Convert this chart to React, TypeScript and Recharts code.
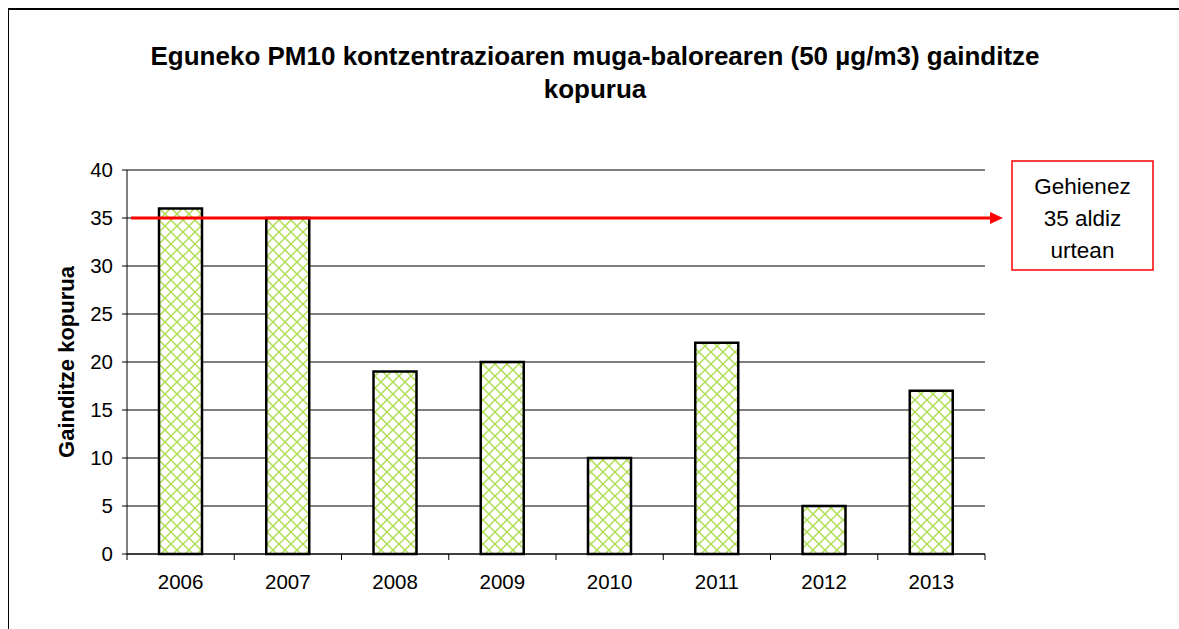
import React, { useLayoutEffect } from "react";
import { BarChart, Bar, XAxis, YAxis, CartesianGrid, ReferenceLine } from "recharts";

const years = ["2006", "2007", "2008", "2009", "2010", "2011", "2012", "2013"];
const exceedances = [36, 35, 19, 20, 10, 22, 5, 17];
const yTicks = [0, 5, 10, 15, 20, 25, 30, 35, 40];
const limitValue = 35;
const limitLabel = ["Gehienez", "35 aldiz", "urtean"];
const titleLines = [
  "Eguneko PM10 kontzentrazioaren muga-balorearen (50 µg/m3) gainditze",
  "kopurua",
];
const yLabel = "Gainditze kopurua";

const data = years.map((y, i) => ({ year: y, value: exceedances[i] }));

const FONT = "'Liberation Sans', Arial, sans-serif";
const CHART_W = 1170;
const CHART_H = 619;
const MARGIN = { top: 160, right: 194, bottom: 35, left: 58 };
const Y_W = 60;
const PLOT_W = CHART_W - MARGIN.left - MARGIN.right - Y_W;
const BAND = PLOT_W / years.length;

const XTick = (props: any) => {
  const { x, y, payload, index } = props;
  const half = BAND / 2;
  const axisY = y - 8;
  return (
    <g>
      <line x1={x - half} y1={axisY} x2={x - half} y2={axisY + 6} stroke="#000" strokeWidth={1} />
      {index === years.length - 1 && (
        <line x1={x + half} y1={axisY} x2={x + half} y2={axisY + 6} stroke="#000" strokeWidth={1} />
      )}
      <text x={x} y={y + 27} textAnchor="middle" fontSize={20.5} fontFamily={FONT} fill="#000">
        {payload.value}
      </text>
    </g>
  );
};

const LimitShape = (props: any) => {
  const { x1, y1, x2 } = props;
  const y = y1;
  const start = x1 + 4;
  const tip = x2 + 18;
  const boxX = x2 + 27;
  return (
    <g>
      <line x1={start} y1={y} x2={tip - 12} y2={y} stroke="#ff0000" strokeWidth={3} />
      <polygon points={`${tip - 13},${y - 6} ${tip},${y} ${tip - 13},${y + 6}`} fill="#ff0000" />
      <rect x={boxX} y={y - 57} width={141} height={109} fill="#fff" stroke="#ff0000" strokeWidth={1.5} />
      {limitLabel.map((t, i) => (
        <text
          key={i}
          x={boxX + 70.5}
          y={y - 24 + i * 32}
          textAnchor="middle"
          fontSize={22.5}
          fontFamily={FONT}
          fill="#000"
        >
          {t}
        </text>
      ))}
    </g>
  );
};

export default function App() {
  useLayoutEffect(() => {
    document.documentElement.style.overflow = "hidden";
    document.body.style.overflow = "hidden";
  }, []);
  return (
    <div
      style={{
        position: "fixed",
        left: 8,
        top: 8,
        width: 1171,
        height: 621,
        borderTop: "2px solid #000",
        borderLeft: "1px solid #000",
        fontFamily: FONT,
        boxSizing: "border-box",
        overflow: "hidden",
        background: "#fff",
      }}
    >
      <div
        style={{
          position: "absolute",
          left: 0,
          top: 30,
          width: 1172,
          textAlign: "center",
          fontWeight: "bold",
          fontSize: 26,
          lineHeight: "33px",
          color: "#000",
        }}
      >
        {titleLines.map((l, i) => (
          <div key={i}>{l}</div>
        ))}
      </div>
      <div style={{ position: "absolute", left: 0, top: 0 }}>
        <BarChart width={CHART_W} height={CHART_H} data={data} margin={MARGIN} barCategoryGap="30%">
          <defs>
            <pattern id="hatch" patternUnits="userSpaceOnUse" width={12} height={12}>
              <rect width={12} height={12} fill="#fff" />
              <path d="M0,0 L12,12 M12,0 L0,12" stroke="#addb4f" strokeWidth={1.4} />
            </pattern>
          </defs>
          <CartesianGrid vertical={false} stroke="#000" strokeWidth={1} />
          <XAxis
            dataKey="year"
            tickLine={false}
            axisLine={{ stroke: "#000" }}
            tick={<XTick />}
            interval={0}
            height={40}
          />
          <YAxis
            domain={[0, 40]}
            ticks={yTicks}
            width={Y_W}
            tickSize={5}
            tickMargin={9}
            axisLine={{ stroke: "#000" }}
            tickLine={{ stroke: "#000" }}
            tick={{ fill: "#000", fontSize: 20.5, fontFamily: FONT }}
            label={{
              value: yLabel,
              angle: -90,
              position: "insideLeft",
              dx: -6,
              style: { fontWeight: "bold", fontSize: 22, fontFamily: FONT, fill: "#000", textAnchor: "middle" },
            }}
          />
          <Bar
            dataKey="value"
            fill="url(#hatch)"
            stroke="#000"
            strokeWidth={2.5}
            barSize={43}
            isAnimationActive={false}
          />
          <ReferenceLine y={limitValue} shape={<LimitShape />} ifOverflow="visible" />
        </BarChart>
      </div>
    </div>
  );
}
